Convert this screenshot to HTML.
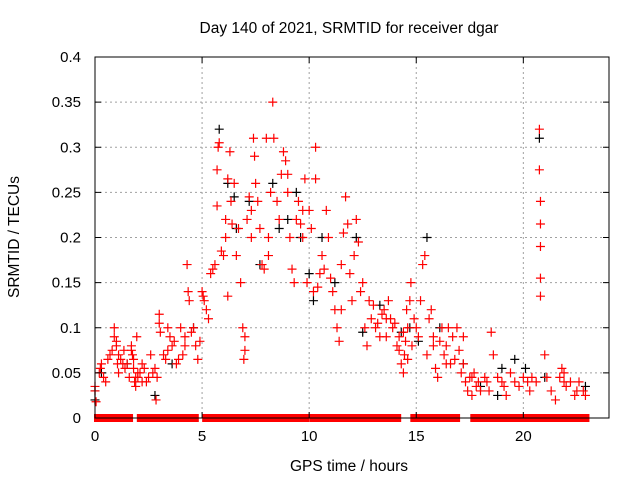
<!DOCTYPE html>
<html><head><meta charset="utf-8"><style>
body{margin:0;background:#fff}
svg{display:block;font-family:"Liberation Sans",sans-serif}
</style></head><body>
<svg id="chart" width="640" height="480" xmlns="http://www.w3.org/2000/svg">
<rect width="640" height="480" fill="#fff"/>
<g id="grid"></g>
<g id="zeros"></g>
<g id="blackpts"></g>
<g id="redpts"></g>
<rect x="95" y="57" width="514" height="361" fill="none" stroke="#000" stroke-width="1"/>
<g id="ticks"></g>
<text x="349" y="33" font-size="15.5" text-anchor="middle">Day 140 of 2021, SRMTID for receiver dgar</text>
<text x="349" y="471" font-size="15.5" text-anchor="middle">GPS time / hours</text>
<text transform="translate(19,237) rotate(-90)" font-size="15.5" text-anchor="middle">SRMTID / TECUs</text>
</svg>
<script>
const xTicks=[0,5,10,15,20];
const yTicks=[0,0.05,0.1,0.15,0.2,0.25,0.3,0.35,0.4];
const yTickLabels=["0","0.05","0.1","0.15","0.2","0.25","0.3","0.35","0.4"];
const zeroSpans=[[0,1.73],[2.0,4.8],[5.05,9.95],[10.05,14.25],[14.77,17.0],[17.57,23.04]];
const redT=[0,0,0.05,0.2,0.25,0.3,0.4,0.5,0.6,0.7,0.8,0.9,0.9,1.0,1.0,1.05,1.1,1.1,1.2,1.3,1.4,1.5,1.6,1.7,1.7,1.75,1.8,1.8,1.85,1.9,1.95,2.0,2.0,2.1,2.2,2.3,2.4,2.5,2.6,2.7,2.8,2.85,2.9,3.0,3.0,3.05,3.2,3.3,3.4,3.5,3.6,3.7,3.8,3.9,4.0,4.1,4.2,4.3,4.35,4.4,4.5,4.6,4.7,4.8,4.9,5.0,5.05,5.1,5.2,5.3,5.4,5.5,5.6,5.7,5.7,5.75,5.8,5.9,6.0,6.1,6.2,6.2,6.3,6.35,6.4,6.5,6.6,6.7,6.8,6.9,6.95,7.0,7.0,7.1,7.2,7.3,7.4,7.45,7.5,7.6,7.7,7.8,7.9,8.0,8.1,8.2,8.3,8.35,8.5,8.6,8.7,8.8,8.9,9.0,9.1,9.2,9.3,9.4,9.5,9.6,9.7,9.8,9.9,10.0,10.1,10.2,10.3,10.3,10.4,10.5,10.6,10.7,10.8,10.9,11.0,11.1,11.2,11.3,11.4,11.5,11.6,11.7,11.8,11.9,12.0,12.1,12.2,12.3,12.5,12.6,12.7,12.8,12.9,13.0,13.1,13.2,13.3,13.4,13.5,13.6,13.7,13.8,13.9,14.0,14.1,14.2,14.3,14.4,14.45,14.5,14.55,14.6,14.7,14.75,14.8,14.9,15.0,15.1,15.2,15.3,15.4,15.5,15.6,15.7,15.8,15.9,16.0,16.1,16.2,16.3,16.4,16.5,16.6,16.7,16.8,16.9,17.0,17.1,17.2,17.3,17.4,17.5,17.6,17.7,17.8,17.9,18.0,18.2,18.4,18.5,18.6,18.8,19.0,19.2,19.4,19.6,19.8,20.0,20.2,20.4,20.6,20.75,20.75,20.8,20.8,20.8,20.8,20.8,21.0,21.1,21.3,21.5,21.7,21.8,21.9,22.0,22.2,22.4,22.6,22.8,22.9,1.35,1.9,2.2,3.4,4.2,6.1,7.3,8.1,9.0,9.7,11.5,12.4,13.6,14.2,14.4,14.6,15.8,16.4,17.2,17.6,18.3,19.1,20.3,21.9,22.5];
const redV=[0.03,0.035,0.018,0.05,0.055,0.06,0.045,0.04,0.065,0.07,0.075,0.1,0.09,0.085,0.08,0.06,0.07,0.05,0.065,0.06,0.055,0.06,0.045,0.08,0.075,0.07,0.065,0.055,0.04,0.035,0.09,0.05,0.045,0.05,0.04,0.055,0.04,0.045,0.07,0.05,0.055,0.02,0.045,0.105,0.115,0.095,0.07,0.065,0.075,0.09,0.08,0.085,0.06,0.065,0.1,0.07,0.09,0.17,0.14,0.13,0.095,0.1,0.08,0.065,0.085,0.14,0.135,0.13,0.12,0.11,0.16,0.165,0.17,0.235,0.275,0.3,0.305,0.185,0.18,0.2,0.135,0.265,0.295,0.24,0.215,0.26,0.18,0.21,0.15,0.1,0.065,0.075,0.09,0.22,0.245,0.2,0.31,0.29,0.26,0.24,0.21,0.17,0.165,0.31,0.18,0.25,0.35,0.31,0.24,0.22,0.27,0.295,0.285,0.25,0.2,0.165,0.15,0.22,0.24,0.215,0.23,0.265,0.15,0.23,0.21,0.14,0.3,0.265,0.145,0.16,0.18,0.165,0.23,0.2,0.155,0.14,0.12,0.1,0.085,0.17,0.205,0.245,0.215,0.16,0.13,0.18,0.22,0.195,0.15,0.1,0.08,0.13,0.11,0.125,0.1,0.105,0.09,0.115,0.12,0.09,0.13,0.11,0.1,0.105,0.08,0.09,0.06,0.05,0.07,0.085,0.12,0.1,0.13,0.15,0.08,0.11,0.1,0.09,0.13,0.17,0.18,0.07,0.11,0.12,0.08,0.055,0.045,0.085,0.1,0.07,0.08,0.1,0.06,0.09,0.065,0.1,0.075,0.05,0.06,0.04,0.03,0.045,0.025,0.05,0.035,0.04,0.03,0.045,0.03,0.095,0.07,0.045,0.04,0.025,0.05,0.04,0.035,0.045,0.04,0.045,0.04,0.32,0.275,0.24,0.215,0.19,0.155,0.135,0.07,0.045,0.03,0.02,0.045,0.055,0.04,0.035,0.04,0.025,0.04,0.03,0.025,0.075,0.045,0.06,0.1,0.08,0.22,0.23,0.2,0.27,0.2,0.12,0.14,0.11,0.075,0.095,0.065,0.09,0.06,0.09,0.045,0.04,0.035,0.03,0.05,0.03];
const blackT=[0,0,0.3,1.5,2.8,3.6,4.6,5.8,6.2,6.5,6.6,7.2,7.7,8.3,8.6,9.0,9.4,9.6,10.0,10.2,10.6,11.2,12.2,12.5,13.3,14.3,14.7,15.1,15.5,16.1,17.2,18.0,18.8,19.0,19.6,20.1,20.75,21.0,22.9];
const blackV=[0.03,0.02,0.05,0.06,0.025,0.06,0.1,0.32,0.26,0.245,0.21,0.24,0.17,0.26,0.21,0.22,0.25,0.2,0.16,0.13,0.2,0.15,0.2,0.095,0.125,0.095,0.1,0.085,0.2,0.1,0.06,0.035,0.025,0.055,0.065,0.055,0.31,0.045,0.035];

const X0=95,X1=609,Y0=418,Y1=57;
function xs(t){return X0+(X1-X0)*t/24;}
function ys(v){return Y0-(Y0-Y1)*v/0.4;}
const NS="http://www.w3.org/2000/svg";
function mk(tag,attrs,parent){const e=document.createElementNS(NS,tag);for(const k in attrs)e.setAttribute(k,attrs[k]);parent.appendChild(e);return e;}
const grid=document.getElementById('grid'),ticks=document.getElementById('ticks');
xTicks.forEach(t=>{const x=xs(t);
 if(t>0){const g=mk('line',{x1:x,y1:Y1,x2:x,y2:Y0,stroke:'#a0a0a0','stroke-dasharray':'2,3'},grid);
 
 }
 mk('line',{x1:x,y1:Y0,x2:x,y2:Y0-6,stroke:'#000'},ticks);mk('line',{x1:x,y1:Y1,x2:x,y2:Y1+6,stroke:'#000'},ticks);
 const l=mk('text',{x:x,y:Y0+23,'font-size':15,'text-anchor':'middle'},ticks);l.textContent=String(t);
 
 });
yTicks.forEach((v,i)=>{const y=ys(v);
 if(v>0&&v<0.4){const g=mk('line',{x1:X0,y1:y,x2:X1,y2:y,stroke:'#a0a0a0','stroke-dasharray':'2,3'},grid);
 
 }
 mk('line',{x1:X0,y1:y,x2:X0+6,y2:y,stroke:'#000'},ticks);mk('line',{x1:X1,y1:y,x2:X1-6,y2:y,stroke:'#000'},ticks);
 const l=mk('text',{x:X0-14,y:y+5,'font-size':15,'text-anchor':'end'},ticks);l.textContent=yTickLabels[i];
 
 });
function plus(t,v,col,parent,name){const x=xs(t),y=ys(v);
 const p=mk('path',{d:`M${x-4.5},${y}H${x+4.5}M${x},${y-4.5}V${y+4.5}`,stroke:col,'stroke-width':1.2,fill:'none'},parent);
 
 }
const zg=document.getElementById('zeros');
zeroSpans.forEach(s=>{const r=mk('rect',{x:xs(s[0])-1,y:Y0-4,width:xs(s[1])-xs(s[0])+2,height:8,fill:'#ff0000'},zg);
 
 });
const bg=document.getElementById('blackpts');
blackT.forEach((t,i)=>plus(t,blackV[i],'#000',bg,'black-point'));
const rg=document.getElementById('redpts');
redT.forEach((t,i)=>plus(t,redV[i],'#ff0000',rg,'red-point'));
</script>
</body></html>
